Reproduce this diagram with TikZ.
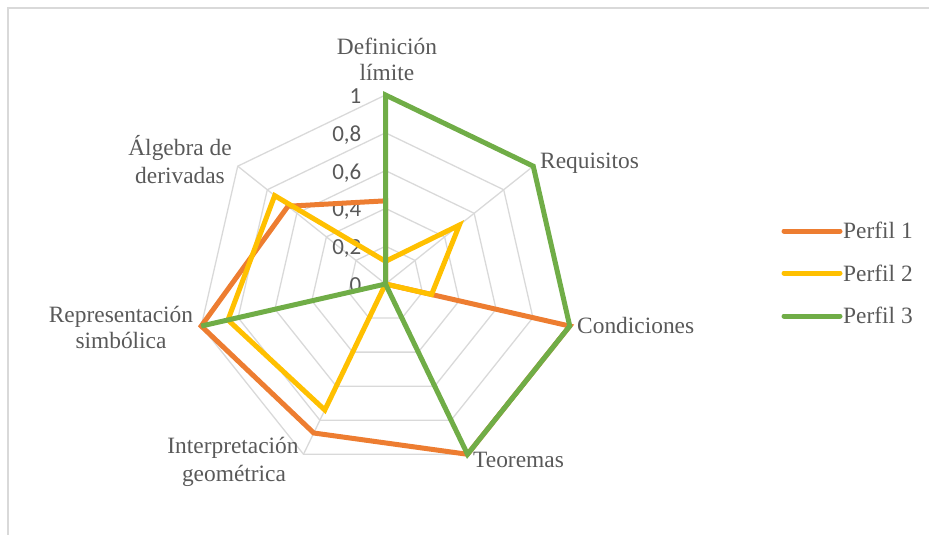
\documentclass[tikz,border=0pt]{standalone}
\usepackage{fontspec}
\setmainfont{Liberation Serif}
\newfontfamily\tickfont{Carlito}
\definecolor{txtgray}{HTML}{595959}
\definecolor{gridgray}{HTML}{D9D9D9}
\definecolor{pone}{HTML}{ED7D31}
\definecolor{ptwo}{HTML}{FFC000}
\definecolor{pthree}{HTML}{70AD47}
\begin{document}
\begin{tikzpicture}[x=1pt,y=-1pt,
  gridline/.style={draw=gridgray,line width=1.3pt},
  series/.style={line width=5pt,line join=miter,miter limit=4},
  axlabel/.style={text=txtgray,font=\fontsize{23.4}{27}\selectfont,inner sep=0pt},
  ticklabel/.style={text=txtgray,font=\tickfont\fontsize{23}{27}\selectfont,inner sep=0pt,anchor=base east},
  legline/.style={line width=5pt,line cap=round}]
\def\cx{385.5}\def\cy{284}\def\R{189}
\useasboundingbox (0,0) rectangle (929,535);
\begin{scope}
\clip (0,0) rectangle (929,535);
\draw[draw=gridgray,line width=1.5pt] (8,8) rectangle (945,550);
\end{scope}
% grid rings
\foreach \v in {0.2,0.4,0.6,0.8,1}{
  \draw[gridline] ({\cx},{\cy-\R*\v}) \foreach \k in {1,...,6}{ -- ({\cx+\R*\v*cos(90-\k*360/7)},{\cy-\R*\v*sin(90-\k*360/7)}) } -- cycle;
}
\coordinate (c) at (\cx,\cy);
\foreach \k in {0,...,6}{
  \coordinate (o\k) at ({\cx+\R*cos(90-\k*360/7)},{\cy-\R*sin(90-\k*360/7)});
  \draw[gridline] (c) -- (o\k);
}
% tick labels
\foreach \v/\t [count=\i] in {0/0,0.2/{0,2},0.4/{0,4},0.6/{0,6},0.8/{0,8},1/1}{
  \node[ticklabel] (t\i) at (361.5,{\cy-\R*\v+8.5}) {\t};
}
% series coordinates
\foreach \val [count=\k from 0] in {0.44,0,1,1,0.875,1,0.66}
  \coordinate (a\k) at ({\cx+\R*\val*cos(90-\k*360/7)},{\cy-\R*\val*sin(90-\k*360/7)});
\foreach \val [count=\k from 0] in {0.12,0.5,0.25,0,0.74,0.855,0.75}
  \coordinate (b\k) at ({\cx+\R*\val*cos(90-\k*360/7)},{\cy-\R*\val*sin(90-\k*360/7)});
\foreach \val [count=\k from 0] in {1,1,1,1,0,1,0}
  \coordinate (g\k) at ({\cx+\R*\val*cos(90-\k*360/7)},{\cy-\R*\val*sin(90-\k*360/7)});
\draw[series,pone] (a0)--(a1)--(a2)--(a3)--(a4)--(a5)--(a6)--cycle;
\draw[series,ptwo] (b0)--(b1)--(b2)--(b3)--(b4)--(b5)--(b6)--cycle;
\draw[series,pthree] (g0)--(g1)--(g2)--(g3)--(g4)--(g5)--(g6)--cycle;
% axis labels
\node[axlabel,anchor=base] (l0a) at (387,55) {Definición};
\node[axlabel,anchor=base] (l0b) at (387,81) {límite};
\node[axlabel,anchor=base west] (l1) at (540,168) {Requisitos};
\node[axlabel,anchor=base west] (l2) at (577,333) {Condiciones};
\node[axlabel,anchor=base west] (l3) at (473,467) {Teoremas};
\node[axlabel,anchor=base] (l4a) at (233,453) {Interpretación};
\node[axlabel,anchor=base] (l4b) at (234,481) {geométrica};
\node[axlabel,anchor=base] (l5a) at (121,322) {Representación};
\node[axlabel,anchor=base] (l5b) at (121,348) {simbólica};
\node[axlabel,anchor=base] (l6a) at (180,155) {Álgebra de};
\node[axlabel,anchor=base] (l6b) at (180,183) {derivadas};
% legend
\coordinate (k1s) at (784,231); \coordinate (k1e) at (840,231);
\coordinate (k2s) at (784,273); \coordinate (k2e) at (840,273);
\coordinate (k3s) at (784,316); \coordinate (k3e) at (840,316);
\draw[legline,pone] (k1s) -- (k1e);
\draw[legline,ptwo] (k2s) -- (k2e);
\draw[legline,pthree] (k3s) -- (k3e);
\node[axlabel,anchor=base west] (e1) at (843,238) {Perfil 1};
\node[axlabel,anchor=base west] (e2) at (843,281) {Perfil 2};
\node[axlabel,anchor=base west] (e3) at (843,323) {Perfil 3};
\end{tikzpicture}
\end{document}
